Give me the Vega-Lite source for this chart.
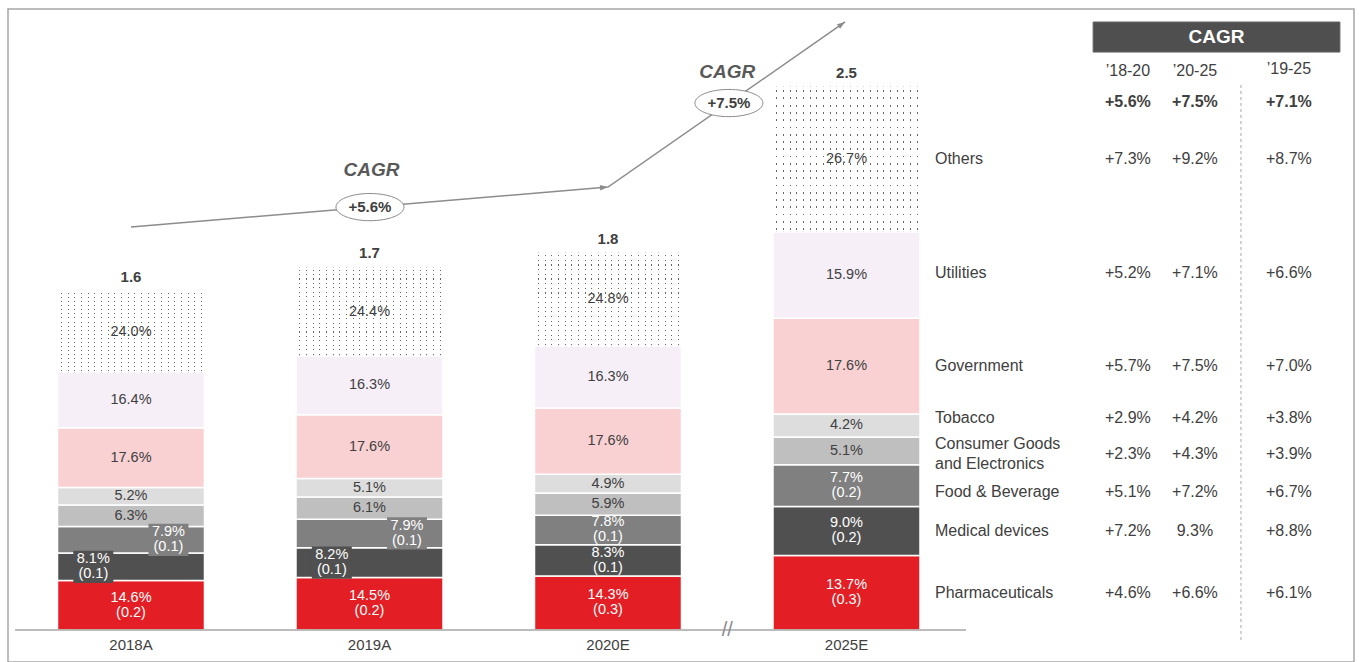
{
"$schema":"https://vega.github.io/schema/vega-lite/v6.json",
"width":1359,"height":662,
"autosize":{"type":"fit","contains":"padding"},
"padding":{"left":8,"top":9,"right":5,"bottom":0},
"background":"white",
"config":{"view":{"stroke":"#a6a6a6","strokeWidth":1.5},"font":"Liberation Sans","axis":{"disable":true},"scale":{"continuousPadding":0}},
"datasets":{
"seg":[
{"year":"2018A","sector":"Pharmaceuticals","rank":1,"pct":14.6,"value":0.230},
{"year":"2018A","sector":"Medical devices","rank":2,"pct":8.1,"value":0.1276},
{"year":"2018A","sector":"Food & Beverage","rank":3,"pct":7.9,"value":0.1244},
{"year":"2018A","sector":"Consumer Goods and Electronics","rank":4,"pct":6.3,"value":0.0992},
{"year":"2018A","sector":"Tobacco","rank":5,"pct":5.2,"value":0.0819},
{"year":"2018A","sector":"Government","rank":6,"pct":17.6,"value":0.2772},
{"year":"2018A","sector":"Utilities","rank":7,"pct":16.4,"value":0.2583},
{"year":"2018A","sector":"Others","rank":8,"pct":24.0,"value":0.378},
{"year":"2019A","sector":"Pharmaceuticals","rank":1,"pct":14.5,"value":0.2443},
{"year":"2019A","sector":"Medical devices","rank":2,"pct":8.2,"value":0.1382},
{"year":"2019A","sector":"Food & Beverage","rank":3,"pct":7.9,"value":0.1331},
{"year":"2019A","sector":"Consumer Goods and Electronics","rank":4,"pct":6.1,"value":0.1028},
{"year":"2019A","sector":"Tobacco","rank":5,"pct":5.1,"value":0.0859},
{"year":"2019A","sector":"Government","rank":6,"pct":17.6,"value":0.2966},
{"year":"2019A","sector":"Utilities","rank":7,"pct":16.3,"value":0.2747},
{"year":"2019A","sector":"Others","rank":8,"pct":24.4,"value":0.4111},
{"year":"2020E","sector":"Pharmaceuticals","rank":1,"pct":14.3,"value":0.2513},
{"year":"2020E","sector":"Medical devices","rank":2,"pct":8.3,"value":0.1458},
{"year":"2020E","sector":"Food & Beverage","rank":3,"pct":7.8,"value":0.1370},
{"year":"2020E","sector":"Consumer Goods and Electronics","rank":4,"pct":5.9,"value":0.1037},
{"year":"2020E","sector":"Tobacco","rank":5,"pct":4.9,"value":0.0861},
{"year":"2020E","sector":"Government","rank":6,"pct":17.6,"value":0.3092},
{"year":"2020E","sector":"Utilities","rank":7,"pct":16.3,"value":0.2864},
{"year":"2020E","sector":"Others","rank":8,"pct":24.8,"value":0.4357},
{"year":"2025E","sector":"Pharmaceuticals","rank":1,"pct":13.7,"value":0.3466},
{"year":"2025E","sector":"Medical devices","rank":2,"pct":9.0,"value":0.2277},
{"year":"2025E","sector":"Food & Beverage","rank":3,"pct":7.7,"value":0.1948},
{"year":"2025E","sector":"Consumer Goods and Electronics","rank":4,"pct":5.1,"value":0.1290},
{"year":"2025E","sector":"Tobacco","rank":5,"pct":4.2,"value":0.1063},
{"year":"2025E","sector":"Government","rank":6,"pct":17.6,"value":0.4453},
{"year":"2025E","sector":"Utilities","rank":7,"pct":15.9,"value":0.4023},
{"year":"2025E","sector":"Others","rank":8,"pct":26.7,"value":0.6755}
],
"cagr":[
{"sector":"Total","c1820":"+5.6%","c2025":"+7.5%","c1925":"+7.1%"},
{"sector":"Others","c1820":"+7.3%","c2025":"+9.2%","c1925":"+8.7%"},
{"sector":"Utilities","c1820":"+5.2%","c2025":"+7.1%","c1925":"+6.6%"},
{"sector":"Government","c1820":"+5.7%","c2025":"+7.5%","c1925":"+7.0%"},
{"sector":"Tobacco","c1820":"+2.9%","c2025":"+4.2%","c1925":"+3.8%"},
{"sector":"Consumer Goods and Electronics","c1820":"+2.3%","c2025":"+4.3%","c1925":"+3.9%"},
{"sector":"Food & Beverage","c1820":"+5.1%","c2025":"+7.2%","c1925":"+6.7%"},
{"sector":"Medical devices","c1820":"+7.2%","c2025":"9.3%","c1925":"+8.8%"},
{"sector":"Pharmaceuticals","c1820":"+4.6%","c2025":"+6.6%","c1925":"+6.1%"}
],
"arrow":[{"ax":0,"ay":1.874},{"ax":2,"ay":2.06},{"ax":2.994,"ay":2.828}]
},
"layer":[
{
"data":{"name":"seg"},
"transform":[
{"calculate":"indexof(['2018A','2019A','2020E','2025E'], datum.year)","as":"xi"},
{"stack":"value","groupby":["year"],"sort":[{"field":"rank","order":"ascending"}],"as":["y0","y1"]},
{"calculate":"(datum.y0+datum.y1)/2","as":"mid"},
{"calculate":"indexof(['Pharmaceuticals','Medical devices','Food & Beverage'], datum.sector) >= 0","as":"dark"},
{"calculate":"datum.mid + (datum.dark ? 0.035 : 0)","as":"ly"},
{"calculate":"datum.dark ? format(datum.pct,'.1f') + '%\\n(' + format(datum.value,'.1f') + ')' : format(datum.pct,'.1f') + '%'","as":"label"},
{"calculate":"(datum.year=='2018A'||datum.year=='2019A') && (datum.sector=='Food & Beverage'||datum.sector=='Medical devices')","as":"off"},
{"calculate":"datum.xi + (datum.sector=='Food & Beverage' ? 0.157 : -0.158)","as":"xo"},
{"calculate":"datum.mid - 0.075","as":"b0"},
{"calculate":"datum.mid + 0.075","as":"b1"}
],
"layer":[
{"mark":{"type":"bar","size":147,"orient":"vertical","stroke":"white","strokeWidth":1.5},
"encoding":{
"x":{"field":"xi","type":"quantitative","scale":{"domain":[-0.5157,5.1279],"nice":false,"zero":false,"padding":0},"axis":null},
"y":{"field":"y0","type":"quantitative","scale":{"domain":[-0.1488,2.8884],"nice":false,"zero":false},"axis":null},
"y2":{"field":"y1"},
"color":{"field":"sector","type":"nominal","legend":null,"scale":{"domain":["Pharmaceuticals","Medical devices","Food & Beverage","Consumer Goods and Electronics","Tobacco","Government","Utilities","Others"],"range":["#e31e24","#505050","#808080","#bfbfbf","#dddddd","#f9d1d3","#f7eff8","#ffffff"]}}}},
{"transform":[{"filter":"datum.sector=='Others'"}],
"mark":{"type":"bar","size":147,"orient":"vertical","fill":{"gradient":"linear","x1":0,"y1":0,"x2":1,"y2":0,"stops":[
{"offset":0,"color":"#fff"},
{"offset":0.0227,"color":"#fff"},{"offset":0.0227,"color":"#666"},{"offset":0.0297,"color":"#666"},{"offset":0.0297,"color":"#fff"},
{"offset":0.0682,"color":"#fff"},{"offset":0.0682,"color":"#666"},{"offset":0.0752,"color":"#666"},{"offset":0.0752,"color":"#fff"},
{"offset":0.1136,"color":"#fff"},{"offset":0.1136,"color":"#666"},{"offset":0.1206,"color":"#666"},{"offset":0.1206,"color":"#fff"},
{"offset":0.1591,"color":"#fff"},{"offset":0.1591,"color":"#666"},{"offset":0.1661,"color":"#666"},{"offset":0.1661,"color":"#fff"},
{"offset":0.2045,"color":"#fff"},{"offset":0.2045,"color":"#666"},{"offset":0.2115,"color":"#666"},{"offset":0.2115,"color":"#fff"},
{"offset":0.2500,"color":"#fff"},{"offset":0.2500,"color":"#666"},{"offset":0.2570,"color":"#666"},{"offset":0.2570,"color":"#fff"},
{"offset":0.2955,"color":"#fff"},{"offset":0.2955,"color":"#666"},{"offset":0.3025,"color":"#666"},{"offset":0.3025,"color":"#fff"},
{"offset":0.3409,"color":"#fff"},{"offset":0.3409,"color":"#666"},{"offset":0.3479,"color":"#666"},{"offset":0.3479,"color":"#fff"},
{"offset":0.3864,"color":"#fff"},{"offset":0.3864,"color":"#666"},{"offset":0.3934,"color":"#666"},{"offset":0.3934,"color":"#fff"},
{"offset":0.4318,"color":"#fff"},{"offset":0.4318,"color":"#666"},{"offset":0.4388,"color":"#666"},{"offset":0.4388,"color":"#fff"},
{"offset":0.4773,"color":"#fff"},{"offset":0.4773,"color":"#666"},{"offset":0.4843,"color":"#666"},{"offset":0.4843,"color":"#fff"},
{"offset":0.5227,"color":"#fff"},{"offset":0.5227,"color":"#666"},{"offset":0.5297,"color":"#666"},{"offset":0.5297,"color":"#fff"},
{"offset":0.5682,"color":"#fff"},{"offset":0.5682,"color":"#666"},{"offset":0.5752,"color":"#666"},{"offset":0.5752,"color":"#fff"},
{"offset":0.6136,"color":"#fff"},{"offset":0.6136,"color":"#666"},{"offset":0.6206,"color":"#666"},{"offset":0.6206,"color":"#fff"},
{"offset":0.6591,"color":"#fff"},{"offset":0.6591,"color":"#666"},{"offset":0.6661,"color":"#666"},{"offset":0.6661,"color":"#fff"},
{"offset":0.7045,"color":"#fff"},{"offset":0.7045,"color":"#666"},{"offset":0.7115,"color":"#666"},{"offset":0.7115,"color":"#fff"},
{"offset":0.7500,"color":"#fff"},{"offset":0.7500,"color":"#666"},{"offset":0.7570,"color":"#666"},{"offset":0.7570,"color":"#fff"},
{"offset":0.7955,"color":"#fff"},{"offset":0.7955,"color":"#666"},{"offset":0.8025,"color":"#666"},{"offset":0.8025,"color":"#fff"},
{"offset":0.8409,"color":"#fff"},{"offset":0.8409,"color":"#666"},{"offset":0.8479,"color":"#666"},{"offset":0.8479,"color":"#fff"},
{"offset":0.8864,"color":"#fff"},{"offset":0.8864,"color":"#666"},{"offset":0.8934,"color":"#666"},{"offset":0.8934,"color":"#fff"},
{"offset":0.9318,"color":"#fff"},{"offset":0.9318,"color":"#666"},{"offset":0.9388,"color":"#666"},{"offset":0.9388,"color":"#fff"},
{"offset":0.9773,"color":"#fff"},{"offset":0.9773,"color":"#666"},{"offset":0.9843,"color":"#666"},{"offset":0.9843,"color":"#fff"},
{"offset":1,"color":"#fff"}]}},
"encoding":{
"x":{"field":"xi","type":"quantitative","scale":{"domain":[-0.5157,5.1279],"nice":false,"zero":false,"padding":0},"axis":null},
"y":{"field":"y0","type":"quantitative","scale":{"domain":[-0.1488,2.8884],"nice":false,"zero":false},"axis":null},
"y2":{"field":"y1"}}},
{"transform":[{"filter":"datum.sector=='Others'"}],
"mark":{"type":"bar","size":147,"orient":"vertical","fill":{"gradient":"linear","x1":0,"y1":0,"x2":0,"y2":1,"stops":[
{"offset":0,"color":"#fff"},
{"offset":0.025,"color":"#fff"},{"offset":0.025,"color":"rgba(255,255,255,0)"},{"offset":0.0375,"color":"rgba(255,255,255,0)"},{"offset":0.0375,"color":"#fff"},
{"offset":0.075,"color":"#fff"},{"offset":0.075,"color":"rgba(255,255,255,0)"},{"offset":0.0875,"color":"rgba(255,255,255,0)"},{"offset":0.0875,"color":"#fff"},
{"offset":0.125,"color":"#fff"},{"offset":0.125,"color":"rgba(255,255,255,0)"},{"offset":0.1375,"color":"rgba(255,255,255,0)"},{"offset":0.1375,"color":"#fff"},
{"offset":0.175,"color":"#fff"},{"offset":0.175,"color":"rgba(255,255,255,0)"},{"offset":0.1875,"color":"rgba(255,255,255,0)"},{"offset":0.1875,"color":"#fff"},
{"offset":0.225,"color":"#fff"},{"offset":0.225,"color":"rgba(255,255,255,0)"},{"offset":0.2375,"color":"rgba(255,255,255,0)"},{"offset":0.2375,"color":"#fff"},
{"offset":0.275,"color":"#fff"},{"offset":0.275,"color":"rgba(255,255,255,0)"},{"offset":0.2875,"color":"rgba(255,255,255,0)"},{"offset":0.2875,"color":"#fff"},
{"offset":0.325,"color":"#fff"},{"offset":0.325,"color":"rgba(255,255,255,0)"},{"offset":0.3375,"color":"rgba(255,255,255,0)"},{"offset":0.3375,"color":"#fff"},
{"offset":0.375,"color":"#fff"},{"offset":0.375,"color":"rgba(255,255,255,0)"},{"offset":0.3875,"color":"rgba(255,255,255,0)"},{"offset":0.3875,"color":"#fff"},
{"offset":0.425,"color":"#fff"},{"offset":0.425,"color":"rgba(255,255,255,0)"},{"offset":0.4375,"color":"rgba(255,255,255,0)"},{"offset":0.4375,"color":"#fff"},
{"offset":0.475,"color":"#fff"},{"offset":0.475,"color":"rgba(255,255,255,0)"},{"offset":0.4875,"color":"rgba(255,255,255,0)"},{"offset":0.4875,"color":"#fff"},
{"offset":0.525,"color":"#fff"},{"offset":0.525,"color":"rgba(255,255,255,0)"},{"offset":0.5375,"color":"rgba(255,255,255,0)"},{"offset":0.5375,"color":"#fff"},
{"offset":0.575,"color":"#fff"},{"offset":0.575,"color":"rgba(255,255,255,0)"},{"offset":0.5875,"color":"rgba(255,255,255,0)"},{"offset":0.5875,"color":"#fff"},
{"offset":0.625,"color":"#fff"},{"offset":0.625,"color":"rgba(255,255,255,0)"},{"offset":0.6375,"color":"rgba(255,255,255,0)"},{"offset":0.6375,"color":"#fff"},
{"offset":0.675,"color":"#fff"},{"offset":0.675,"color":"rgba(255,255,255,0)"},{"offset":0.6875,"color":"rgba(255,255,255,0)"},{"offset":0.6875,"color":"#fff"},
{"offset":0.725,"color":"#fff"},{"offset":0.725,"color":"rgba(255,255,255,0)"},{"offset":0.7375,"color":"rgba(255,255,255,0)"},{"offset":0.7375,"color":"#fff"},
{"offset":0.775,"color":"#fff"},{"offset":0.775,"color":"rgba(255,255,255,0)"},{"offset":0.7875,"color":"rgba(255,255,255,0)"},{"offset":0.7875,"color":"#fff"},
{"offset":0.825,"color":"#fff"},{"offset":0.825,"color":"rgba(255,255,255,0)"},{"offset":0.8375,"color":"rgba(255,255,255,0)"},{"offset":0.8375,"color":"#fff"},
{"offset":0.875,"color":"#fff"},{"offset":0.875,"color":"rgba(255,255,255,0)"},{"offset":0.8875,"color":"rgba(255,255,255,0)"},{"offset":0.8875,"color":"#fff"},
{"offset":0.925,"color":"#fff"},{"offset":0.925,"color":"rgba(255,255,255,0)"},{"offset":0.9375,"color":"rgba(255,255,255,0)"},{"offset":0.9375,"color":"#fff"},
{"offset":0.975,"color":"#fff"},{"offset":0.975,"color":"rgba(255,255,255,0)"},{"offset":0.9875,"color":"rgba(255,255,255,0)"},{"offset":0.9875,"color":"#fff"},
{"offset":1,"color":"#fff"}]}},
"encoding":{
"x":{"field":"xi","type":"quantitative","scale":{"domain":[-0.5157,5.1279],"nice":false,"zero":false,"padding":0},"axis":null},
"y":{"field":"y0","type":"quantitative","scale":{"domain":[-0.1488,2.8884],"nice":false,"zero":false},"axis":null},
"y2":{"field":"y1"}}},
{"transform":[{"filter":"!datum.off"}],
"mark":{"type":"text","fontSize":14.5,"lineHeight":15,"lineBreak":"\n","baseline":"middle","align":"center"},
"encoding":{
"x":{"field":"xi","type":"quantitative","scale":{"domain":[-0.5157,5.1279],"nice":false,"zero":false,"padding":0},"axis":null},
"y":{"field":"ly","type":"quantitative","scale":{"domain":[-0.1488,2.8884],"nice":false,"zero":false},"axis":null},
"text":{"field":"label"},
"color":{"condition":{"test":"datum.dark","value":"white"},"value":"#404040"}}},
{"transform":[{"filter":"datum.off"}],
"mark":{"type":"bar","size":40,"orient":"vertical"},
"encoding":{
"x":{"field":"xo","type":"quantitative","scale":{"domain":[-0.5157,5.1279],"nice":false,"zero":false,"padding":0},"axis":null},
"y":{"field":"b0","type":"quantitative","scale":{"domain":[-0.1488,2.8884],"nice":false,"zero":false},"axis":null},
"y2":{"field":"b1"},
"color":{"field":"sector","type":"nominal","legend":null}}},
{"transform":[{"filter":"datum.off"}],
"mark":{"type":"text","fontSize":14.5,"lineHeight":15,"lineBreak":"\n","baseline":"middle","align":"center","color":"white"},
"encoding":{
"x":{"field":"xo","type":"quantitative","scale":{"domain":[-0.5157,5.1279],"nice":false,"zero":false,"padding":0},"axis":null},
"y":{"field":"ly","type":"quantitative","scale":{"domain":[-0.1488,2.8884],"nice":false,"zero":false},"axis":null},
"text":{"field":"label"}}}
]
},
{
"data":{"name":"seg"},
"transform":[
{"aggregate":[{"op":"sum","field":"value","as":"total"}],"groupby":["year"]},
{"calculate":"indexof(['2018A','2019A','2020E','2025E'], datum.year)","as":"xi"},
{"calculate":"format(datum.total,'.1f')","as":"tl"}
],
"layer":[
{"mark":{"type":"text","fontSize":15,"fontWeight":"bold","dy":-14,"baseline":"middle","align":"center","color":"#404040"},
"encoding":{
"x":{"field":"xi","type":"quantitative","scale":{"domain":[-0.5157,5.1279],"nice":false,"zero":false,"padding":0},"axis":null},
"y":{"field":"total","type":"quantitative","scale":{"domain":[-0.1488,2.8884],"nice":false,"zero":false},"axis":null},
"text":{"field":"tl"}}},
{"mark":{"type":"text","fontSize":15,"dy":15,"baseline":"middle","align":"center","color":"#404040"},
"encoding":{
"x":{"field":"xi","type":"quantitative","scale":{"domain":[-0.5157,5.1279],"nice":false,"zero":false,"padding":0},"axis":null},
"y":{"datum":0,"type":"quantitative","scale":{"domain":[-0.1488,2.8884],"nice":false,"zero":false},"axis":null},
"text":{"field":"year"}}}
]
},
{
"data":{"values":[{}]},
"mark":{"type":"rule","color":"#a6a6a6","strokeWidth":1.5},
"encoding":{
"x":{"datum":-0.486,"type":"quantitative","scale":{"domain":[-0.5157,5.1279],"nice":false,"zero":false,"padding":0},"axis":null},
"x2":{"datum":3.501},
"y":{"datum":0,"type":"quantitative","scale":{"domain":[-0.1488,2.8884],"nice":false,"zero":false},"axis":null}}
},
{
"data":{"values":[{}]},
"mark":{"type":"text","text":"//","fontSize":20,"color":"#8c8c8c","baseline":"middle","align":"center"},
"encoding":{
"x":{"datum":2.5,"type":"quantitative","scale":{"domain":[-0.5157,5.1279],"nice":false,"zero":false,"padding":0},"axis":null},
"y":{"datum":0,"type":"quantitative","scale":{"domain":[-0.1488,2.8884],"nice":false,"zero":false},"axis":null}}
},
{
"data":{"name":"arrow"},
"mark":{"type":"line","color":"#8c8c8c","strokeWidth":1.5},
"encoding":{
"x":{"field":"ax","type":"quantitative","scale":{"domain":[-0.5157,5.1279],"nice":false,"zero":false,"padding":0},"axis":null},
"y":{"field":"ay","type":"quantitative","scale":{"domain":[-0.1488,2.8884],"nice":false,"zero":false},"axis":null},
"order":{"field":"ax"}}
},
{
"data":{"values":[{}]},
"mark":{"type":"point","shape":"M 0 0 L -2 -0.7 L -2 0.7 Z","filled":true,"color":"#8c8c8c","opacity":1,"size":64,"angle":355.2},
"encoding":{
"x":{"datum":2,"type":"quantitative","scale":{"domain":[-0.5157,5.1279],"nice":false,"zero":false,"padding":0},"axis":null},
"y":{"datum":2.06,"type":"quantitative","scale":{"domain":[-0.1488,2.8884],"nice":false,"zero":false},"axis":null}}
},
{
"data":{"values":[{}]},
"mark":{"type":"point","shape":"M 0 0 L -2 -0.7 L -2 0.7 Z","filled":true,"color":"#8c8c8c","opacity":1,"size":64,"angle":325.3},
"encoding":{
"x":{"datum":2.994,"type":"quantitative","scale":{"domain":[-0.5157,5.1279],"nice":false,"zero":false,"padding":0},"axis":null},
"y":{"datum":2.828,"type":"quantitative","scale":{"domain":[-0.1488,2.8884],"nice":false,"zero":false},"axis":null}}
},
{
"data":{"name":"cagr"},
"transform":[{"filter":"datum.sector=='Total'"}],
"layer":[
{"mark":{"type":"point","shape":"M -1 0 A 1 0.4 0 1 1 1 0 A 1 0.4 0 1 1 -1 0 Z","size":4624,"filled":true,"fill":"white","stroke":"#8c8c8c","strokeWidth":1,"opacity":1,"fillOpacity":1},
"encoding":{
"x":{"datum":1.002,"type":"quantitative","scale":{"domain":[-0.5157,5.1279],"nice":false,"zero":false,"padding":0},"axis":null},
"y":{"datum":1.967,"type":"quantitative","scale":{"domain":[-0.1488,2.8884],"nice":false,"zero":false},"axis":null}}},
{"mark":{"type":"point","shape":"M -1 0 A 1 0.4 0 1 1 1 0 A 1 0.4 0 1 1 -1 0 Z","size":4624,"filled":true,"fill":"white","stroke":"#8c8c8c","strokeWidth":1,"opacity":1,"fillOpacity":1},
"encoding":{
"x":{"datum":2.507,"type":"quantitative","scale":{"domain":[-0.5157,5.1279],"nice":false,"zero":false,"padding":0},"axis":null},
"y":{"datum":2.451,"type":"quantitative","scale":{"domain":[-0.1488,2.8884],"nice":false,"zero":false},"axis":null}}},
{"mark":{"type":"text","fontSize":15,"fontWeight":"bold","baseline":"middle","align":"center","color":"#404040"},
"encoding":{
"x":{"datum":1.002,"type":"quantitative","scale":{"domain":[-0.5157,5.1279],"nice":false,"zero":false,"padding":0},"axis":null},
"y":{"datum":1.967,"type":"quantitative","scale":{"domain":[-0.1488,2.8884],"nice":false,"zero":false},"axis":null},
"text":{"field":"c1820"}}},
{"mark":{"type":"text","fontSize":15,"fontWeight":"bold","baseline":"middle","align":"center","color":"#404040"},
"encoding":{
"x":{"datum":2.507,"type":"quantitative","scale":{"domain":[-0.5157,5.1279],"nice":false,"zero":false,"padding":0},"axis":null},
"y":{"datum":2.451,"type":"quantitative","scale":{"domain":[-0.1488,2.8884],"nice":false,"zero":false},"axis":null},
"text":{"field":"c2025"}}},
{"mark":{"type":"text","text":"CAGR","fontSize":19,"fontWeight":"bold","fontStyle":"italic","baseline":"middle","align":"center","color":"#595959"},
"encoding":{
"x":{"datum":1.008,"type":"quantitative","scale":{"domain":[-0.5157,5.1279],"nice":false,"zero":false,"padding":0},"axis":null},
"y":{"datum":2.14,"type":"quantitative","scale":{"domain":[-0.1488,2.8884],"nice":false,"zero":false},"axis":null}}},
{"mark":{"type":"text","text":"CAGR","fontSize":19,"fontWeight":"bold","fontStyle":"italic","baseline":"middle","align":"center","color":"#595959"},
"encoding":{
"x":{"datum":2.5,"type":"quantitative","scale":{"domain":[-0.5157,5.1279],"nice":false,"zero":false,"padding":0},"axis":null},
"y":{"datum":2.595,"type":"quantitative","scale":{"domain":[-0.1488,2.8884],"nice":false,"zero":false},"axis":null}}},
{"mark":{"type":"text","fontSize":16,"fontWeight":"bold","baseline":"middle","align":"center","color":"#404040"},
"encoding":{
"x":{"datum":4.18,"type":"quantitative","scale":{"domain":[-0.5157,5.1279],"nice":false,"zero":false,"padding":0},"axis":null},
"y":{"datum":2.456,"type":"quantitative","scale":{"domain":[-0.1488,2.8884],"nice":false,"zero":false},"axis":null},
"text":{"field":"c1820"}}},
{"mark":{"type":"text","fontSize":16,"fontWeight":"bold","baseline":"middle","align":"center","color":"#404040"},
"encoding":{
"x":{"datum":4.461,"type":"quantitative","scale":{"domain":[-0.5157,5.1279],"nice":false,"zero":false,"padding":0},"axis":null},
"y":{"datum":2.456,"type":"quantitative","scale":{"domain":[-0.1488,2.8884],"nice":false,"zero":false},"axis":null},
"text":{"field":"c2025"}}},
{"mark":{"type":"text","fontSize":16,"fontWeight":"bold","baseline":"middle","align":"center","color":"#404040"},
"encoding":{
"x":{"datum":4.855,"type":"quantitative","scale":{"domain":[-0.5157,5.1279],"nice":false,"zero":false,"padding":0},"axis":null},
"y":{"datum":2.456,"type":"quantitative","scale":{"domain":[-0.1488,2.8884],"nice":false,"zero":false},"axis":null},
"text":{"field":"c1925"}}}
]
},
{
"data":{"values":[{}]},
"mark":{"type":"rect","fill":"#4f4f4f","stroke":"#6a6a6a","strokeWidth":1},
"encoding":{
"x":{"datum":4.034,"type":"quantitative","scale":{"domain":[-0.5157,5.1279],"nice":false,"zero":false,"padding":0},"axis":null},
"x2":{"datum":5.069},
"y":{"datum":2.828,"type":"quantitative","scale":{"domain":[-0.1488,2.8884],"nice":false,"zero":false},"axis":null},
"y2":{"datum":2.688}}
},
{
"data":{"values":[{}]},
"mark":{"type":"text","text":"CAGR","fontSize":19,"fontWeight":"bold","baseline":"middle","align":"center","color":"white"},
"encoding":{
"x":{"datum":4.551,"type":"quantitative","scale":{"domain":[-0.5157,5.1279],"nice":false,"zero":false,"padding":0},"axis":null},
"y":{"datum":2.758,"type":"quantitative","scale":{"domain":[-0.1488,2.8884],"nice":false,"zero":false},"axis":null}}
},
{
"data":{"values":[{}]},
"mark":{"type":"text","text":"’18-20","fontSize":16,"baseline":"middle","align":"center","color":"#404040"},
"encoding":{
"x":{"datum":4.18,"type":"quantitative","scale":{"domain":[-0.5157,5.1279],"nice":false,"zero":false,"padding":0},"axis":null},
"y":{"datum":2.6,"type":"quantitative","scale":{"domain":[-0.1488,2.8884],"nice":false,"zero":false},"axis":null}}
},
{
"data":{"values":[{}]},
"mark":{"type":"text","text":"’20-25","fontSize":16,"baseline":"middle","align":"center","color":"#404040"},
"encoding":{
"x":{"datum":4.461,"type":"quantitative","scale":{"domain":[-0.5157,5.1279],"nice":false,"zero":false,"padding":0},"axis":null},
"y":{"datum":2.6,"type":"quantitative","scale":{"domain":[-0.1488,2.8884],"nice":false,"zero":false},"axis":null}}
},
{
"data":{"values":[{}]},
"mark":{"type":"text","text":"’19-25","fontSize":16,"baseline":"middle","align":"center","color":"#404040"},
"encoding":{
"x":{"datum":4.855,"type":"quantitative","scale":{"domain":[-0.5157,5.1279],"nice":false,"zero":false,"padding":0},"axis":null},
"y":{"datum":2.61,"type":"quantitative","scale":{"domain":[-0.1488,2.8884],"nice":false,"zero":false},"axis":null}}
},
{
"data":{"values":[{}]},
"mark":{"type":"rule","color":"#a6a6a6","strokeWidth":1,"strokeDash":[3,3]},
"encoding":{
"x":{"datum":4.654,"type":"quantitative","scale":{"domain":[-0.5157,5.1279],"nice":false,"zero":false,"padding":0},"axis":null},
"y":{"datum":2.535,"type":"quantitative","scale":{"domain":[-0.1488,2.8884],"nice":false,"zero":false},"axis":null},
"y2":{"datum":-0.0465}}
},
{
"data":{"name":"seg"},
"transform":[
{"stack":"value","groupby":["year"],"sort":[{"field":"rank","order":"ascending"}],"as":["y0","y1"]},
{"filter":"datum.year=='2025E'"},
{"lookup":"sector","from":{"data":{"name":"cagr"},"key":"sector","fields":["c1820","c2025","c1925"]}},
{"calculate":"(datum.y0+datum.y1)/2 + (datum.sector=='Tobacco' ? 0.035 : datum.sector=='Food & Beverage' ? -0.03 : datum.sector=='Consumer Goods and Electronics' ? -0.015 : datum.sector=='Utilities' ? 0.01 : 0)","as":"ty"},
{"calculate":"datum.ty + (datum.sector=='Consumer Goods and Electronics' ? 0.047 : 0)","as":"ny"},
{"calculate":"datum.sector=='Consumer Goods and Electronics' ? 'Consumer Goods\\nand Electronics' : datum.sector","as":"name"}
],
"layer":[
{"mark":{"type":"text","align":"left","baseline":"middle","fontSize":16,"lineHeight":20,"lineBreak":"\n","color":"#404040"},
"encoding":{
"x":{"datum":3.371,"type":"quantitative","scale":{"domain":[-0.5157,5.1279],"nice":false,"zero":false,"padding":0},"axis":null},
"y":{"field":"ny","type":"quantitative","scale":{"domain":[-0.1488,2.8884],"nice":false,"zero":false},"axis":null},
"text":{"field":"name"}}},
{"mark":{"type":"text","align":"center","baseline":"middle","fontSize":16,"color":"#404040"},
"encoding":{
"x":{"datum":4.18,"type":"quantitative","scale":{"domain":[-0.5157,5.1279],"nice":false,"zero":false,"padding":0},"axis":null},
"y":{"field":"ty","type":"quantitative","scale":{"domain":[-0.1488,2.8884],"nice":false,"zero":false},"axis":null},
"text":{"field":"c1820"}}},
{"mark":{"type":"text","align":"center","baseline":"middle","fontSize":16,"color":"#404040"},
"encoding":{
"x":{"datum":4.461,"type":"quantitative","scale":{"domain":[-0.5157,5.1279],"nice":false,"zero":false,"padding":0},"axis":null},
"y":{"field":"ty","type":"quantitative","scale":{"domain":[-0.1488,2.8884],"nice":false,"zero":false},"axis":null},
"text":{"field":"c2025"}}},
{"mark":{"type":"text","align":"center","baseline":"middle","fontSize":16,"color":"#404040"},
"encoding":{
"x":{"datum":4.855,"type":"quantitative","scale":{"domain":[-0.5157,5.1279],"nice":false,"zero":false,"padding":0},"axis":null},
"y":{"field":"ty","type":"quantitative","scale":{"domain":[-0.1488,2.8884],"nice":false,"zero":false},"axis":null},
"text":{"field":"c1925"}}}
]
}
]
}
